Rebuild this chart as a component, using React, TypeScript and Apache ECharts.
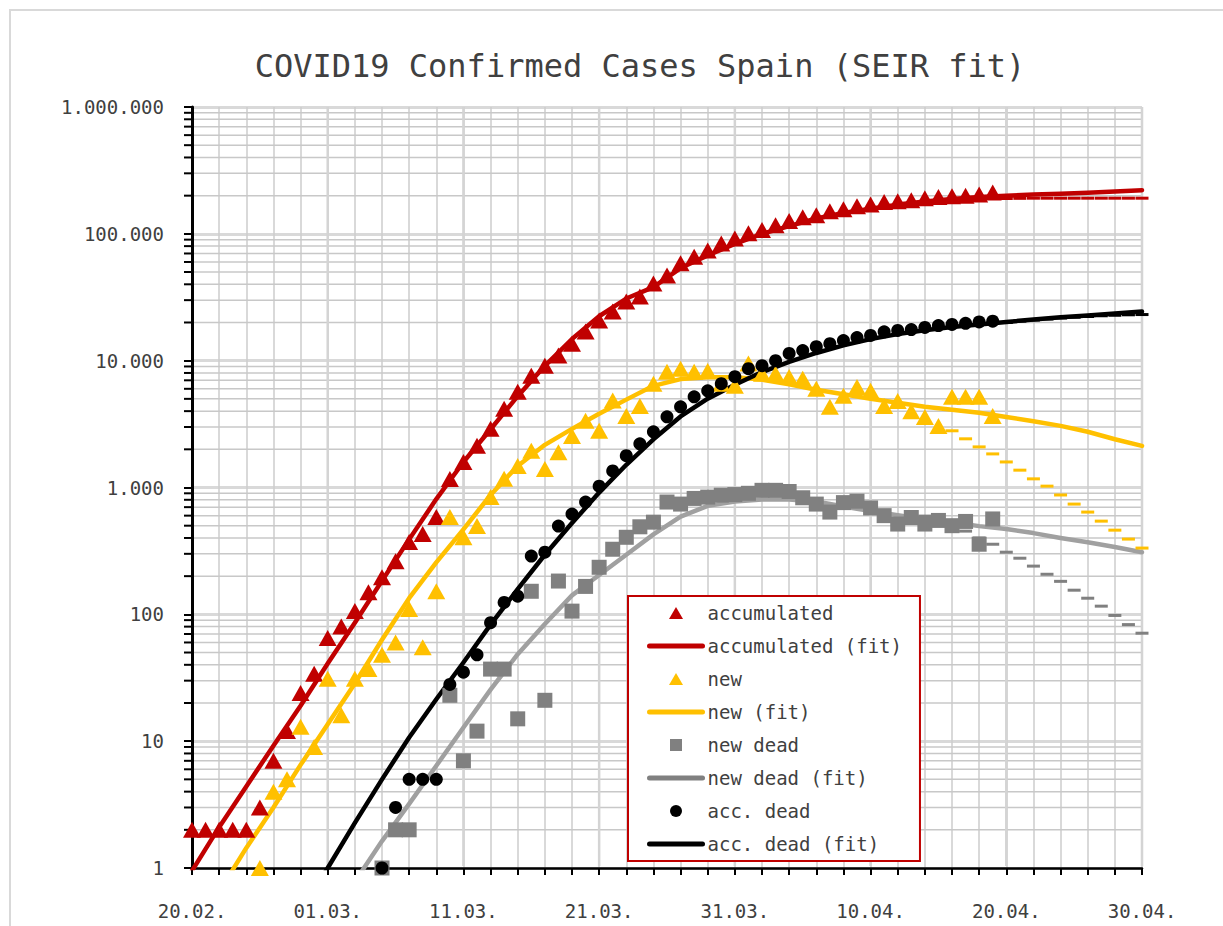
import React, { useEffect, useRef } from "react";
import * as echarts from "echarts";

const FONT = "DejaVu Sans Mono";
const TXT = "#404040";

// x = days since 20.02.2020
const xTickLabels = ["20.02.", "01.03.", "11.03.", "21.03.", "31.03.", "10.04.", "20.04.", "30.04."];
const yMinorValues = [
  2, 3, 4, 5, 6, 7, 8, 9,
  20, 30, 40, 50, 60, 70, 80, 90,
  200, 300, 400, 500, 600, 700, 800, 900,
  2000, 3000, 4000, 5000, 6000, 7000, 8000, 9000,
  20000, 30000, 40000, 50000, 60000, 70000, 80000, 90000,
  200000, 300000, 400000, 500000, 600000, 700000, 800000, 900000,
];
const xMajorDays = [10, 20, 30, 40, 50, 60, 70];

// observed data (daily)
const accStart = 0;
const accumulated = [
  2, 2, 2, 2, 2, 3, 7, 12, 24, 34, 65, 80, 106, 149, 196, 262, 372, 430, 585, 1168,
  1590, 2130, 2900, 4170, 5690, 7600, 9100, 10960, 13600, 17000, 20700, 24400, 29300, 32000, 40500, 47000, 58600, 66000, 74000, 84000,
  92000, 101000, 107000, 117000, 126000, 135000, 140000, 151000, 156000, 165000, 170000, 178000, 181000, 184000, 191000, 195000, 198000, 200000, 204000, 212000,
];
const newStart = 5;
const newCases = [
  1, 4, 5, 13, 9, 31, 16, 31, 37, 48, 60, 110, 55, 152, 585, 405, 497, 841, 1170, 1480,
  1950, 1400, 1900, 2550, 3360, 2800, 4850, 3670, 4400, 6580, 8190, 8650, 8190, 8300, 6580, 6330, 9500, 7890, 7890, 7450,
  7200, 6000, 4330, 5300, 6200, 5800, 4400, 4800, 4000, 3600, 3060, 5200, 5200, 5200, 3670,
];
const deadStart = 14;
const newDead = [
  1, 2, 2, null, null, 23, 7, 12, 37, 37, 15, 152, 21, 183, 106, 166, 235, 326, 405, 490,
  533, 768, 740, 820, 840, 870, 880, 900, 950, 950, 930, 830, 740, 640, 760, 780, 690, 600, 515, 580,
  515, 550, 500, 540, 357, 565,
];
const accDead = [
  1, 3, 5, 5, 5, 28, 35, 48, 86, 124, 139, 288, 309, 497, 617, 768, 1025, 1350, 1780, 2210,
  2750, 3610, 4330, 5190, 5790, 6580, 7470, 8650, 9120, 10000, 11400, 12000, 12900, 13600, 14400, 15200, 15800, 16900, 17300, 17600,
  18300, 18900, 19300, 19700, 20200, 20500,
];

// SEIR fits (every 2 days)
const accFitStart = 0;
const accFit = [
  0.95, 2.1, 4.4, 9.2, 19, 41, 86, 184, 390, 810, 1590, 2880, 5250, 9100, 14800, 22400, 30900, 38000,
  53700, 67600, 83200, 100000, 115000, 132000, 146000, 158000, 170000, 180000, 188000, 195000, 200000, 204000, 207000, 211000, 216000, 221000,
];
const newFitStart = 2;
const newFit = [
  0.65, 1.44, 3.0, 6.5, 13.6, 28.5, 63, 134, 257, 468, 873, 1480, 2170, 2900, 3820, 4930, 6330, 7160,
  7400, 7400, 7090, 6520, 5900, 5430, 5010, 4660, 4330, 4100, 3890, 3600, 3330, 3060, 2750, 2400, 2130,
];
const deadFitStart = 12;
const newDeadFit = [
  0.78, 1.63, 3.2, 6.4, 12.8, 25.5, 48.5, 84, 141, 204, 295, 427, 589, 716, 776,
  804, 804, 776, 708, 652, 604, 563, 533, 496, 470, 437, 400, 370, 339, 309,
];
const accDeadFitStart = 8;
const accDeadFit = [
  0.45, 1, 2.27, 5, 10.7, 21.4, 41.7, 83, 158, 295, 525, 912, 1510, 2400, 3630, 5010,
  6460, 8130, 9770, 11500, 13200, 14800, 16200, 17400, 18400, 19300, 20200, 21100, 22000, 22700, 23600, 24400,
];

// projections (daily dashes)
const accProjStart = 60;
const accProj = [190000, 190500, 191000, 191000, 191000, 191000, 191000, 191000, 191000, 191000, 191000];
const newProjStart = 56;
const newProj = [2800, 2420, 2090, 1840, 1590, 1370, 1170, 1025, 873, 740, 640, 543, 461, 392, 333];
const deadProjStart = 54;
const deadProj = [595, 560, 505, 453, 400, 357, 309, 277, 240, 207, 182, 155, 134, 116, 98, 83, 71];
const accDeadProjStart = 60;
const accDeadProj = [20000, 20500, 20900, 21300, 21700, 22000, 22300, 22600, 22800, 23000, 23100];

const RED = "#c00000";
const YEL = "#ffc000";
const GRY = "#808080";
const GRYL = "#a0a0a0";
const BLK = "#000000";

// legend icons: invisible moveTo corners keep the 53x14 box, the shape sits in its middle
const ICON_TRI = "path://M0,0M53,14M19.5,13L33.5,13L26.5,1Z";
const ICON_SQ = "path://M0,0M53,14M20.5,1L32.5,1L32.5,13L20.5,13Z";
const ICON_DOT = "path://M0,0M53,14M20.5,7A6,6 0 1 1 32.5,7A6,6 0 1 1 20.5,7Z";

const seq = (start: number, step: number, vals: (number | null)[]) =>
  vals.map((v, i) => (v == null ? null : [start + i * step, v])).filter((p) => p !== null);

const fmtY = (v: number) => String(Math.round(v)).replace(/\B(?=(\d{3})+(?!\d))/g, ".");

export default function App() {
  const ref = useRef<HTMLDivElement>(null);
  useEffect(() => {
    if (!ref.current) return;
    const chart = echarts.init(ref.current, undefined, { renderer: "svg" });
    const scatter = (name: string, data: any[], symbol: string, size: any, color: string) => ({
      name, type: "scatter", data, symbol, symbolSize: size, itemStyle: { color, opacity: 1 }, z: 4,
    });
    const fit = (name: string, data: any[], color: string) => ({
      name, type: "line", data, symbol: "none", smooth: false,
      lineStyle: { color, width: 4.5, cap: "round", join: "round" }, itemStyle: { color }, z: 3,
    });
    const dash = (data: any[], color: string) => ({
      type: "scatter", data, symbol: "rect", symbolSize: [13, 3], itemStyle: { color, opacity: 1 }, z: 3, silent: true,
    });
    const lineItem = (name: string, color: string) => ({
      name, itemStyle: { opacity: 0 }, lineStyle: { color, width: 5, cap: "round" },
    });
    const option: any = {
      animation: false,
      backgroundColor: "#ffffff",
      textStyle: { fontFamily: FONT },
      graphic: [
        { type: "rect", shape: { x: 10, y: 10, width: 1240, height: 940 }, style: { fill: "none", stroke: "#d9d9d9", lineWidth: 2 }, silent: true },
        {
          type: "text", x: 640, y: 66,
          style: { text: "COVID19 Confirmed Cases Spain (SEIR fit)", fontFamily: FONT, fontSize: 32, fill: TXT, textAlign: "center", textVerticalAlign: "middle" },
        },
      ],
      grid: { left: 192, right: 81, top: 107, bottom: 58 },
      xAxis: {
        type: "value", min: 0, max: 70, interval: 2,
        axisLine: { show: true, lineStyle: { color: BLK, width: 2.5 } },
        axisTick: { show: true, length: 7, lineStyle: { color: BLK, width: 2 } },
        axisLabel: {
          formatter: (v: number) => (v % 10 === 0 ? xTickLabels[v / 10] : ""),
          margin: 33, fontFamily: FONT, fontSize: 19, color: TXT,
        },
        splitLine: { show: true, lineStyle: { color: "#cccccc", width: 1.5 } },
      },
      yAxis: {
        type: "log", logBase: 10, min: 1, max: 1000000, splitNumber: 6,
        axisLine: { show: true, lineStyle: { color: BLK, width: 3 } },
        axisTick: { show: true, length: 8, lineStyle: { color: BLK, width: 2 } },
        axisLabel: { formatter: fmtY, margin: 28, fontFamily: FONT, fontSize: 19, color: TXT },
        splitLine: { show: true, lineStyle: { color: "#d9d9d9", width: 3 } },
      },
      legend: {
        orient: "vertical", left: 628, top: 596,
        padding: [6, 18, 6, 19], itemGap: 11, itemWidth: 53, itemHeight: 14,
        backgroundColor: "#ffffff", borderColor: RED, borderWidth: 2,
        textStyle: { fontFamily: FONT, fontSize: 19, color: TXT, lineHeight: 22 },
        data: [
          { name: "accumulated", icon: ICON_TRI },
          lineItem("accumulated (fit)", RED),
          { name: "new", icon: ICON_TRI },
          lineItem("new (fit)", YEL),
          { name: "new dead", icon: ICON_SQ },
          lineItem("new dead (fit)", GRY),
          { name: "acc. dead", icon: ICON_DOT },
          lineItem("acc. dead (fit)", BLK),
        ],
      },
      series: [
        {
          type: "custom", silent: true, z: 1, clip: false,
          data: yMinorValues.map((v) => [0, v]),
          renderItem: (_p: any, api: any) => {
            const v = api.value(1);
            const a = api.coord([0, v]);
            const b = api.coord([70, v]);
            return {
              type: "group",
              children: [
                { type: "line", shape: { x1: a[0] + 2, y1: a[1], x2: b[0], y2: b[1] }, style: { stroke: "#c8c8c8", lineWidth: 1.5 } },
                { type: "line", shape: { x1: a[0] - 8, y1: a[1], x2: a[0], y2: a[1] }, style: { stroke: BLK, lineWidth: 2 } },
              ],
            };
          },
        },
        {
          type: "custom", silent: true, z: 1, clip: false,
          data: xMajorDays.map((d) => [d, 1]),
          renderItem: (_p: any, api: any) => {
            const d = api.value(0);
            const a = api.coord([d, 1]);
            const b = api.coord([d, 1000000]);
            return { type: "line", shape: { x1: a[0], y1: a[1] - 2, x2: b[0], y2: b[1] }, style: { stroke: "#d4d4d4", lineWidth: 2.5 } };
          },
        },
        dash(seq(accProjStart, 1, accProj), RED),
        dash(seq(newProjStart, 1, newProj), YEL),
        dash(seq(deadProjStart, 1, deadProj), GRY),
        dash(seq(accDeadProjStart, 1, accDeadProj), BLK),
        fit("accumulated (fit)", seq(accFitStart, 2, accFit), RED),
        fit("new (fit)", seq(newFitStart, 2, newFit), YEL),
        fit("new dead (fit)", seq(deadFitStart, 2, newDeadFit), GRYL),
        fit("acc. dead (fit)", seq(accDeadFitStart, 2, accDeadFit), BLK),
        scatter("accumulated", seq(accStart, 1, accumulated), "triangle", [18, 16], RED),
        scatter("new", seq(newStart, 1, newCases), "triangle", [18, 16], YEL),
        scatter("new dead", seq(deadStart, 1, newDead), "rect", 15, GRY),
        scatter("acc. dead", seq(deadStart, 1, accDead), "circle", 13, BLK),
      ],
    };
    chart.setOption(option);
    return () => chart.dispose();
  }, []);
  return <div ref={ref} style={{ position: "fixed", left: 0, top: 0, width: 1223, height: 926 }} />;
}
